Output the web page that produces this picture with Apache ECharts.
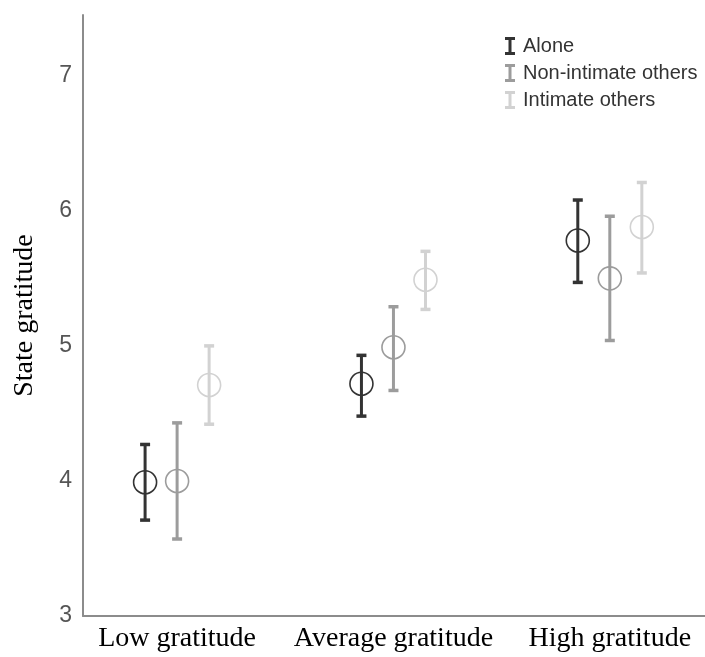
<!DOCTYPE html>
<html>
<head>
<meta charset="utf-8">
<script src="https://cdn.jsdelivr.net/npm/echarts@6/dist/echarts.min.js"></script>
<style>html,body{margin:0;padding:0;background:#fff;}#c{width:705px;height:657px;}</style>
</head>
<body>
<div id="c"></div>
<script>
const categories = ['Low gratitude', 'Average gratitude', 'High gratitude'];
const seriesNames = ['Alone', 'Non-intimate others', 'Intimate others'];
const aloneMean = [3.99, 4.72, 5.78];
const aloneLow  = [3.71, 4.48, 5.47];
const aloneHigh = [4.27, 4.93, 6.08];
const nonMean = [4.00, 4.99, 5.50];
const nonLow  = [3.57, 4.67, 5.04];
const nonHigh = [4.43, 5.29, 5.96];
const intMean = [4.71, 5.49, 5.88];
const intLow  = [4.42, 5.27, 5.54];
const intHigh = [5.00, 5.70, 6.21];
const yTicks = [3, 4, 5, 6, 7];

const colors = ['#333333', '#9c9c9c', '#d2d2d2'];
const offsets = [-0.148, 0, 0.148];
const groups = [
  [aloneMean, aloneLow, aloneHigh],
  [nonMean, nonLow, nonHigh],
  [intMean, intLow, intHigh]
];
const iconPath = 'path://M0,0 H10 V3 H6.5 V15 H10 V18 H0 V15 H3.5 V3 H0 Z';

const series = groups.map((g, si) => {
  const data = categories.map((c, ci) => [ci + offsets[si], g[0][ci], g[1][ci], g[2][ci]]);
  return {
    name: seriesNames[si],
    type: 'custom',
    data: data,
    encode: { x: 0, y: [1, 2, 3] },
    renderItem: function (params, api) {
      const x = api.value(0);
      const pm = api.coord([x, api.value(1)]);
      const pl = api.coord([x, api.value(2)]);
      const ph = api.coord([x, api.value(3)]);
      const col = colors[si];
      const capW = 5;
      return {
        type: 'group',
        children: [
          { type: 'line', shape: { x1: pm[0], y1: pl[1], x2: pm[0], y2: ph[1] }, style: { stroke: col, lineWidth: 3 } },
          { type: 'line', shape: { x1: pm[0] - capW, y1: pl[1], x2: pm[0] + capW, y2: pl[1] }, style: { stroke: col, lineWidth: 3.5 } },
          { type: 'line', shape: { x1: pm[0] - capW, y1: ph[1], x2: pm[0] + capW, y2: ph[1] }, style: { stroke: col, lineWidth: 3.5 } },
          { type: 'circle', shape: { cx: pm[0], cy: pm[1], r: 11.5 }, style: { fill: 'none', stroke: col, lineWidth: 1.6 } }
        ]
      };
    },
    itemStyle: { color: colors[si] }
  };
});

const chart = echarts.init(document.getElementById('c'), null, { renderer: 'canvas' });
chart.setOption({
  animation: false,
  backgroundColor: '#ffffff',
  grid: { left: 83, right: 0, top: 15, bottom: 41, containLabel: false },
  legend: {
    orient: 'vertical',
    left: 500,
    top: 31,
    itemWidth: 10,
    itemHeight: 18,
    itemGap: 7,
    data: seriesNames.map((n, i) => ({ name: n, icon: iconPath, itemStyle: { color: colors[i] } })),
    textStyle: { fontFamily: 'Liberation Sans, Arial, sans-serif', fontSize: 20, color: '#333', padding: [0, 0, 0, 3] }
  },
  xAxis: {
    type: 'value',
    min: -0.435,
    max: 2.44,
    splitLine: { show: false },
    axisTick: { show: false },
    axisLine: { show: true, onZero: false, lineStyle: { color: '#8c8c8c', width: 2 } },
    axisLabel: {
      customValues: [0, 1, 2],
      formatter: v => categories[Math.round(v)],
      fontFamily: 'Liberation Serif, Times New Roman, serif',
      fontSize: 28,
      color: '#000',
      margin: 9
    }
  },
  yAxis: {
    type: 'value',
    min: 3,
    max: 7.45,
    name: 'State gratitude',
    nameLocation: 'middle',
    nameGap: 44,
    nameTextStyle: { fontFamily: 'Liberation Serif, Times New Roman, serif', fontSize: 28, color: '#000' },
    splitLine: { show: false },
    axisTick: { show: false },
    axisLine: { show: true, onZero: false, lineStyle: { color: '#8c8c8c', width: 2 } },
    axisLabel: {
      customValues: yTicks,
      fontFamily: 'Liberation Sans, Arial, sans-serif',
      fontSize: 23,
      color: '#555',
      margin: 11
    }
  },
  series: series
});
</script>
</body>
</html>
